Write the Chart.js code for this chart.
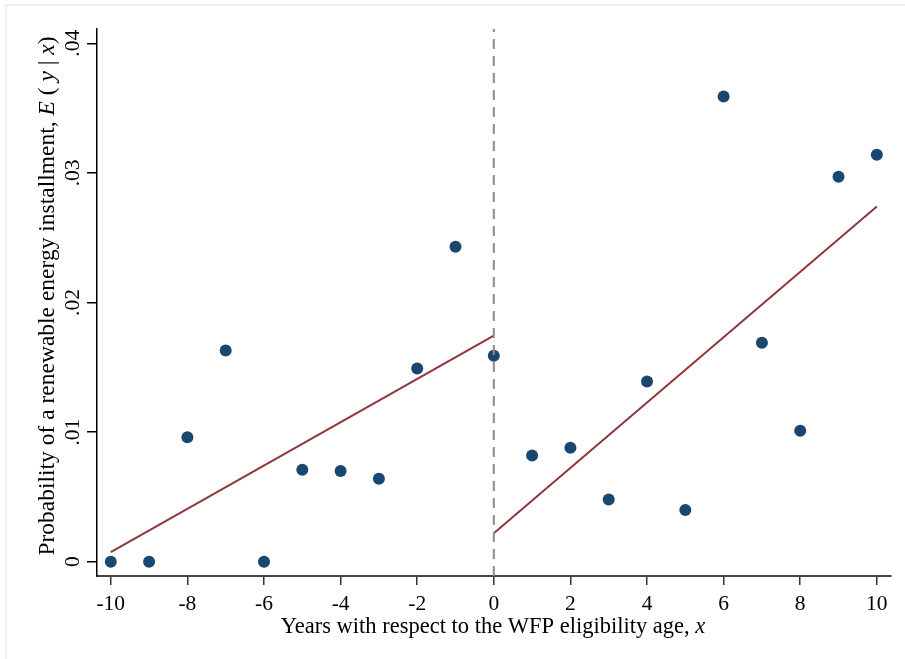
<!DOCTYPE html>
<html>
<head>
<meta charset="utf-8">
<script src="https://cdn.jsdelivr.net/npm/chart.js@4/dist/chart.umd.min.js"></script>
<style>
  html, body { margin: 0; padding: 0; background: #fff; }
  #wrap { width: 905px; height: 659px; }
</style>
</head>
<body>
<div id="wrap"><canvas id="mycanvas" width="905" height="659"></canvas></div>
<script>
// years relative to eligibility age and the binned means
var years = [-10, -9, -8, -7, -6, -5, -4, -3, -2, -1, 0, 1, 2, 3, 4, 5, 6, 7, 8, 9, 10];
var probMeans = [0, 0, 0.0096, 0.0163, 0, 0.0071, 0.0070, 0.0064, 0.0149, 0.0243, 0.0159,
                 0.0082, 0.0088, 0.0048, 0.0139, 0.0040, 0.0359, 0.0169, 0.0101, 0.0297, 0.0314];

// fitted lines either side of the cutoff (end points)
var fitLeftX = [-10, 0];
var fitLeftY = [0.00075, 0.01745];
var fitRightX = [0, 10];
var fitRightY = [0.0022, 0.0274];

var cutoffX = [0, 0];
var cutoffY = [-0.0011, 0.0411];

var xTicks = [-10, -8, -6, -4, -2, 0, 2, 4, 6, 8, 10];
var yTicks = [0, 0.01, 0.02, 0.03, 0.04];
var yTickLabels = ["0", ".01", ".02", ".03", ".04"];

var serif = "'Liberation Serif', 'Times New Roman', serif";
var tickSize = 21.5;
var titleSize = 22.5;

function toPoints(xs, ys) {
  var out = [];
  for (var i = 0; i < xs.length; i++) out.push({x: xs[i], y: ys[i]});
  return out;
}

// y tick labels (rotated), axis titles with italics, and the outer frame
var extras = {
  id: 'extras',
  afterDraw: function (chart) {
    var ctx = chart.ctx;
    var ys = chart.scales.y;
    ctx.save();
    ctx.fillStyle = '#000';
    ctx.font = tickSize + 'px ' + serif;
    ctx.textAlign = 'center';
    ctx.textBaseline = 'alphabetic';
    for (var i = 0; i < yTicks.length; i++) {
      var py = ys.getPixelForValue(yTicks[i]);
      ctx.save();
      ctx.translate(79, py);
      ctx.rotate(-Math.PI / 2);
      ctx.fillText(yTickLabels[i], 0, 0);
      ctx.restore();
    }

    // y title
    var yParts = [["Probability of a renewable energy installment, ", false], ["E", true],
                  [" ( ", false], ["y", true], [" | ", false], ["x", true], [")", false]];
    drawMixed(ctx, yParts, 54, 296, true, 23.5);

    // x title
    var xParts = [["Years with respect to the WFP eligibility age, ", false], ["x", true]];
    drawMixed(ctx, xParts, 493, 633, false, titleSize);

    // frame
    ctx.strokeStyle = '#e6edf2';
    ctx.lineWidth = 1.5;
    ctx.beginPath();
    ctx.moveTo(6, 659);
    ctx.lineTo(6, 5);
    ctx.lineTo(905, 5);
    ctx.stroke();
    ctx.restore();
  }
};

function drawMixed(ctx, parts, cx, cy, vertical, size) {
  var total = 0, i;
  for (i = 0; i < parts.length; i++) {
    ctx.font = (parts[i][1] ? 'italic ' : '') + size + 'px ' + serif;
    total += ctx.measureText(parts[i][0]).width;
  }
  ctx.save();
  ctx.translate(cx, cy);
  if (vertical) ctx.rotate(-Math.PI / 2);
  ctx.textAlign = 'left';
  ctx.textBaseline = 'alphabetic';
  var pos = -total / 2;
  for (i = 0; i < parts.length; i++) {
    ctx.font = (parts[i][1] ? 'italic ' : '') + size + 'px ' + serif;
    ctx.fillText(parts[i][0], pos, 0);
    pos += ctx.measureText(parts[i][0]).width;
  }
  ctx.restore();
}

var ctxL = document.getElementById("mycanvas").getContext('2d');
var myChart = new Chart(ctxL, {
  type: 'scatter',
  data: {
    datasets: [{
      label: 'cutoff',
      type: 'line',
      data: toPoints(cutoffX, cutoffY),
      borderColor: '#8c8c8c',
      borderWidth: 2,
      borderDash: [10, 7],
      pointRadius: 0,
      fill: false
    }, {
      label: 'fit left',
      type: 'line',
      data: toPoints(fitLeftX, fitLeftY),
      borderColor: '#90353b',
      borderWidth: 2,
      pointRadius: 0,
      fill: false
    }, {
      label: 'fit right',
      type: 'line',
      data: toPoints(fitRightX, fitRightY),
      borderColor: '#90353b',
      borderWidth: 2,
      pointRadius: 0,
      fill: false
    }, {
      label: 'means',
      data: toPoints(years, probMeans),
      backgroundColor: '#1a476f',
      borderColor: '#1a476f',
      borderWidth: 0,
      pointRadius: 6,
      pointHoverRadius: 6
    }]
  },
  options: {
    responsive: false,
    animation: false,
    layout: { padding: { left: 0, top: 29, right: 14, bottom: 0 } },
    plugins: { legend: { display: false }, tooltip: { enabled: false } },
    scales: {
      x: {
        type: 'linear',
        min: -10.36,
        max: 10.37,
        afterBuildTicks: function (scale) {
          scale.ticks = xTicks.map(function (v) { return {value: v}; });
        },
        afterFit: function (scale) { scale.height = 83; },
        grid: { drawOnChartArea: false, drawTicks: true, tickLength: 9, color: '#333', lineWidth: 1.5 },
        border: { display: true, color: '#444', width: 2 },
        ticks: {
          color: '#000',
          padding: 6,
          maxRotation: 0,
          font: { family: serif, size: tickSize },
          callback: function (v) { return String(v); }
        }
      },
      y: {
        type: 'linear',
        min: -0.0011,
        max: 0.0411,
        afterBuildTicks: function (scale) {
          scale.ticks = yTicks.map(function (v) { return {value: v}; });
        },
        afterFit: function (scale) { scale.width = 97; },
        grid: { drawOnChartArea: false, drawTicks: true, tickLength: 10, color: '#000', lineWidth: 1.5 },
        border: { display: true, color: '#000', width: 1.5 },
        ticks: { display: false }
      }
    }
  },
  plugins: [extras]
});
</script>
</body>
</html>
